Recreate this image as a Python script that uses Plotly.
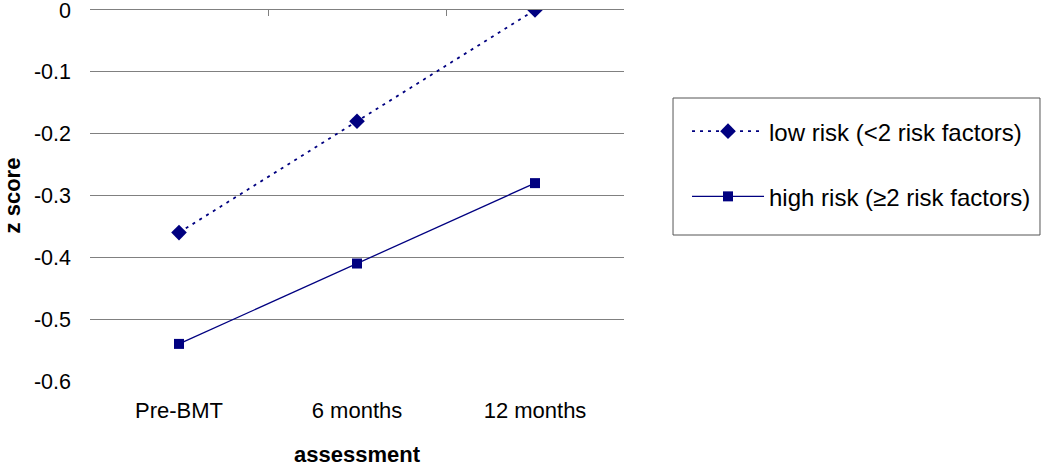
import plotly.graph_objects as go

categories = ["Pre-BMT", "6 months", "12 months"]
low_risk = [-0.36, -0.18, 0.0]
high_risk = [-0.54, -0.41, -0.28]
y_ticks = [0, -0.1, -0.2, -0.3, -0.4, -0.5, -0.6]
y_tick_labels = ["0", "-0.1", "-0.2", "-0.3", "-0.4", "-0.5", "-0.6"]

NAVY = "#000080"
FONT = "Liberation Sans, Arial, sans-serif"

fig = go.Figure()
fig.add_trace(go.Scatter(
    x=categories, y=low_risk, mode="lines+markers",
    name="low risk (<2 risk factors)", legendgroup="a",
    line=dict(color=NAVY, width=1.8, dash="3px,5px"),
    marker=dict(symbol="diamond", size=12, color=NAVY),
))
fig.add_trace(go.Scatter(
    x=categories, y=high_risk, mode="lines+markers",
    name="high risk (≥2 risk factors)", legendgroup="b",
    line=dict(color=NAVY, width=1.3),
    marker=dict(symbol="square", size=10, color=NAVY),
))
# top axis with boundary ticks
fig.add_trace(go.Scatter(x=categories, y=low_risk, xaxis="x2", mode="markers",
                         marker=dict(opacity=0), showlegend=False, hoverinfo="skip"))

fig.update_layout(
    width=1050, height=467,
    margin=dict(l=90, r=426, t=10, b=86),
    paper_bgcolor="white", plot_bgcolor="white",
    font=dict(family=FONT, size=22, color="black"),
    showlegend=True,
    legend=dict(
        x=1.118, y=0.733, xanchor="left", yanchor="top",
        borderwidth=0, bgcolor="rgba(0,0,0,0)",
        font=dict(size=24), tracegroupgap=31, itemwidth=72,
    ),
    shapes=[dict(
        type="rect", xref="paper", yref="paper",
        x0=1.0918, x1=1.779, y0=0.3935, y1=0.7628,
        line=dict(color="#555555", width=1), fillcolor="rgba(0,0,0,0)",
    )],
    xaxis=dict(
        type="category", categoryarray=categories, range=[-0.5, 2.5],
        showgrid=False, showline=False, ticks="", zeroline=False,
        ticklabelstandoff=14, automargin=False,
        title=dict(text="<b>assessment</b>", standoff=26, font=dict(size=22)),
    ),
    xaxis2=dict(
        type="category", categoryarray=categories, range=[-0.5, 2.5],
        overlaying="x", side="top", anchor="y", automargin=False,
        showline=True, linecolor="#808080", linewidth=1,
        ticks="inside", tickson="boundaries", ticklen=6, tickcolor="#808080",
        showticklabels=False, showgrid=False,
    ),
    yaxis=dict(
        range=[-0.6, 0], tickvals=y_ticks, ticktext=y_tick_labels,
        showgrid=True, gridcolor="#808080", gridwidth=1,
        zeroline=False, showline=False, ticks="", automargin=False,
        ticklabelstandoff=18, ticklabeloverflow="allow",
        tickfont=dict(size=21.5),
        title=dict(text="<b>z score</b>", standoff=15, font=dict(size=22)),
    ),
)

fig.write_html("out.html", config={"displayModeBar": False},
               post_script="document.body.style.margin='0';")
